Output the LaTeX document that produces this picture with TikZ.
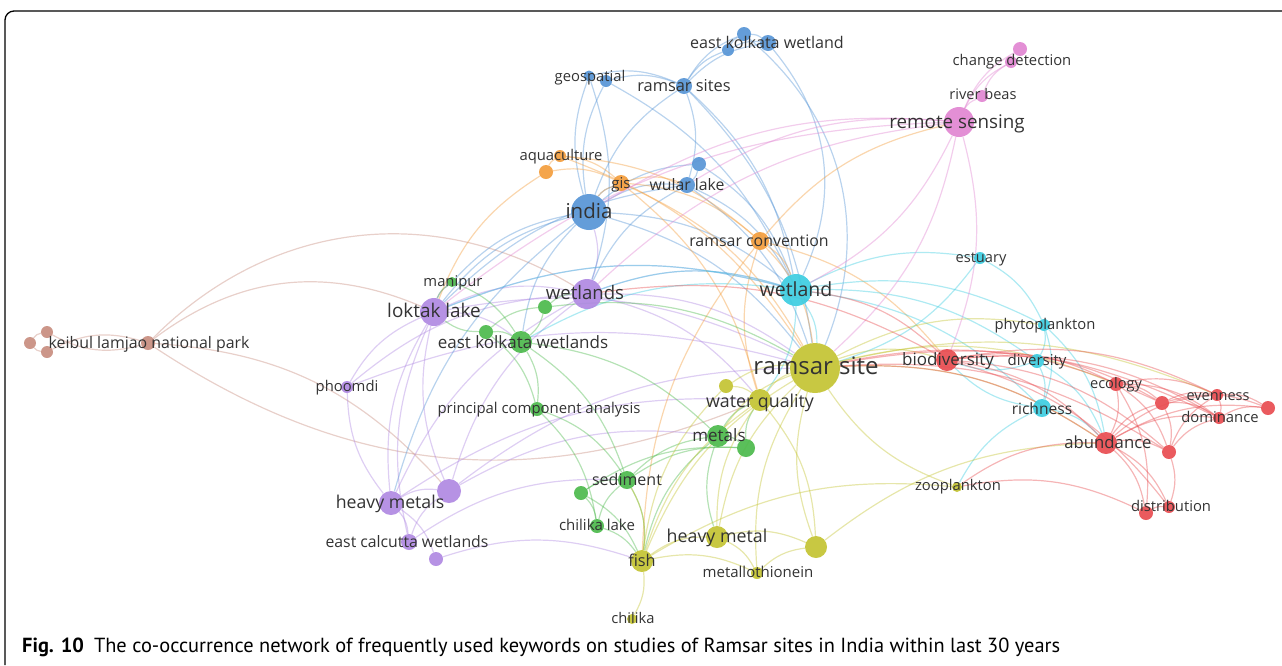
\documentclass[tikz,border=0pt]{standalone}
\usepackage{fontspec}
\setmainfont{Open Sans}
\newfontfamily\capfont{PT Sans}
\pgfdeclarelayer{bg}
\pgfsetlayers{bg,main}
\definecolor{cblue}{RGB}{88,150,214}
\definecolor{corange}{RGB}{243,158,62}
\definecolor{ccyan}{RGB}{62,205,225}
\definecolor{cpink}{RGB}{225,135,210}
\definecolor{cpurple}{RGB}{176,138,226}
\definecolor{cgreen}{RGB}{78,186,78}
\definecolor{cyellow}{RGB}{196,196,52}
\definecolor{cred}{RGB}{232,78,82}
\definecolor{cbrown}{RGB}{200,142,128}
\tikzset{
  kw/.style={circle, draw=none, fill=#1, opacity=0.93, inner sep=0pt},
  lab/.style={inner sep=0pt, anchor=base, yshift={-0.33*#1pt}, text=black!80, font=\fontsize{#1}{#1}\selectfont},
  lab/.default=14.8,
  lnk/.style={draw=#1, line width=1.2pt, opacity=0.42},
}
\begin{document}
\begin{tikzpicture}[x=1pt,y=-1pt]
\useasboundingbox (0,0) rectangle (1282,665);
\draw[line width=1.3pt, rounded corners=9pt] (5,665) -- (5,11) -- (1282,11);

% blue
\node[kw=cblue, minimum size=14pt] (ekwA) at (744,34) {};
\node[kw=cblue, minimum size=12pt] (ekwB) at (728,50) {};
\node[kw=cblue, minimum size=16pt] (ekwet) at (768,43) {};
\node[kw=cblue, minimum size=11pt] (geospatial) at (589,76) {};
\node[kw=cblue, minimum size=12pt] (geoB) at (606,81) {};
\node[kw=cblue, minimum size=16pt] (rsites) at (684,86) {};
\node[kw=cblue, minimum size=14pt] (wularB) at (699,164) {};
\node[kw=cblue, minimum size=16pt] (wular) at (687,185) {};
\node[kw=cblue, minimum size=36pt] (india) at (589,212) {};
% orange
\node[kw=corange, minimum size=12pt] (aquaculture) at (560,156) {};
\node[kw=corange, minimum size=14pt] (aquaB) at (546,172) {};
\node[kw=corange, minimum size=16pt] (gis) at (621,183) {};
\node[kw=corange, minimum size=18pt] (rconv) at (760,241) {};
% pink
\node[kw=cpink, minimum size=14pt] (changeB) at (1020,49) {};
\node[kw=cpink, minimum size=12pt] (change) at (1011,62) {};
\node[kw=cpink, minimum size=12pt] (beas) at (982,96) {};
\node[kw=cpink, minimum size=30pt] (remote) at (959,122) {};
% cyan
\node[kw=ccyan, minimum size=32pt] (wetland) at (796,290) {};
\node[kw=ccyan, minimum size=12pt] (estuary) at (980,258) {};
\node[kw=ccyan, minimum size=12pt] (phyto) at (1044,325) {};
\node[kw=ccyan, minimum size=14pt] (diversity) at (1037,361) {};
\node[kw=ccyan, minimum size=18pt] (richness) at (1042,408) {};
% purple
\node[kw=cpurple, minimum size=30pt] (wetlands) at (587,294) {};
\node[kw=cpurple, minimum size=28pt] (loktak) at (434,312) {};
\node[kw=cpurple, minimum size=12pt] (phoomdi) at (347,387) {};
\node[kw=cpurple, minimum size=24pt] (hmetals) at (391,503) {};
\node[kw=cpurple, minimum size=24pt] (hmB) at (449,491) {};
\node[kw=cpurple, minimum size=16pt] (calcutta) at (409,542) {};
\node[kw=cpurple, minimum size=14pt] (calB) at (436,559) {};
% green
\node[kw=cgreen, minimum size=10pt] (manipur) at (452,282) {};
\node[kw=cgreen, minimum size=14pt] (grA) at (545,307) {};
\node[kw=cgreen, minimum size=14pt] (grB) at (486,332) {};
\node[kw=cgreen, minimum size=22pt] (ekwets) at (521,342) {};
\node[kw=cgreen, minimum size=14pt] (pca) at (537,409) {};
\node[kw=cgreen, minimum size=22pt] (metals) at (718,436) {};
\node[kw=cgreen, minimum size=18pt] (metB) at (746,448) {};
\node[kw=cgreen, minimum size=18pt] (sediment) at (627,480) {};
\node[kw=cgreen, minimum size=14pt] (sedB) at (581,493) {};
\node[kw=cgreen, minimum size=14pt] (chlake) at (597,526) {};
% yellow
\node[kw=cyellow, minimum size=50pt] (rsite) at (815,368) {};
\node[kw=cyellow, minimum size=14pt] (wqB) at (726,386) {};
\node[kw=cyellow, minimum size=22pt] (wquality) at (760,400) {};
\node[kw=cyellow, minimum size=22pt] (hmetal) at (717,537) {};
\node[kw=cyellow, minimum size=22pt] (hmC) at (816,547) {};
\node[kw=cyellow, minimum size=22pt] (fish) at (642,561) {};
\node[kw=cyellow, minimum size=12pt] (metallo) at (757,573) {};
\node[kw=cyellow, minimum size=10pt] (chilika) at (632,619) {};
\node[kw=cyellow, minimum size=10pt] (zoo) at (957,487) {};
% red
\node[kw=cred, minimum size=22pt] (biodiv) at (947,360) {};
\node[kw=cred, minimum size=14pt] (ecology) at (1116,384) {};
\node[kw=cred, minimum size=14pt] (rdA) at (1162,403) {};
\node[kw=cred, minimum size=12pt] (evenness) at (1217,395) {};
\node[kw=cred, minimum size=14pt] (rdB) at (1268,408) {};
\node[kw=cred, minimum size=12pt] (dominance) at (1219,418) {};
\node[kw=cred, minimum size=22pt] (abundance) at (1106,443) {};
\node[kw=cred, minimum size=14pt] (rdC) at (1169,452) {};
\node[kw=cred, minimum size=14pt] (distB) at (1146,513) {};
\node[kw=cred, minimum size=12pt] (distribution) at (1169,507) {};
% brown
\node[kw=cbrown, minimum size=12pt] (kbA) at (47,332) {};
\node[kw=cbrown, minimum size=12pt] (kbB) at (30,343) {};
\node[kw=cbrown, minimum size=12pt] (kbC) at (47,352) {};
\node[kw=cbrown, minimum size=14pt] (keibul) at (148,343) {};

% links
\begin{pgfonlayer}{bg}
\foreach \a/\b in {keibul/kbA, kbC/keibul, kbB/kbA, kbC/kbB, keibul/hmB}
  \draw[lnk=cbrown] (\a) to[bend left=22] (\b);
\draw[lnk=cbrown] (keibul) to[bend left=38] (wetlands);
\draw[lnk=cbrown] (keibul) to[bend left=30] (loktak);
\draw[lnk=cbrown] (keibul) to[bend right=28] (wquality);
\foreach \a/\b in {loktak/manipur, phoomdi/loktak, hmetals/loktak, hmB/loktak, loktak/wetlands, loktak/ekwets, calcutta/loktak, loktak/rsite, hmB/wetlands, hmetals/wetlands, phoomdi/wetlands, wetlands/rsite, wetlands/wetland, india/wetlands, wetlands/wquality, hmetals/hmB, hmetals/calcutta, hmetals/calB, hmetals/phoomdi, calcutta/hmB, hmB/metals, calB/fish, calcutta/sediment, phoomdi/rsite, hmB/rsite, hmetals/wquality, loktak/wetland}
  \draw[lnk=cpurple] (\a) to[bend left=18] (\b);
\foreach \a/\b in {india/geospatial, india/geoB, india/rsites, india/wular, india/wularB, india/wetland, india/rsite, loktak/india, manipur/india, india/gis, hmetals/india, ekwets/india, geospatial/rsites, geoB/rsites, rsites/ekwB, rsites/ekwet, rsites/ekwA, rsites/wular, rsites/wetland, rsites/rsite, ekwA/ekwet, ekwB/ekwet, ekwB/ekwA, geospatial/wetlands, geoB/wetland, wularB/wular, wular/rsite, wular/wetland, wularB/wetland, wetlands/wular, loktak/wular}
  \draw[lnk=cblue] (\a) to[bend left=18] (\b);
\draw[lnk=cblue] (ekwet) to[bend left=32] (wetland);
\draw[lnk=cblue] (ekwA) to[bend left=36] (rsite);
\foreach \a/\b in {aquaculture/gis, aquaB/aquaculture, loktak/aquaB, aquaB/gis, gis/rconv, gis/rsite, gis/wular, india/gis, aquaculture/rconv, rconv/wetland, rconv/rsite, rconv/remote, wquality/rconv, fish/rconv, gis/wquality, aquaculture/rsite, rconv/biodiv}
  \draw[lnk=corange] (\a) to[bend left=18] (\b);
\foreach \a/\b in {wetland/estuary, wetland/phyto, wetland/diversity, wetland/richness, wetland/rsite, loktak/wetland, ekwets/wetland, estuary/phyto, estuary/rsite, phyto/diversity, diversity/richness, phyto/richness, zoo/richness, richness/biodiv, diversity/biodiv, wetlands/wetland, wetland/wquality, phyto/abundance, diversity/abundance, richness/abundance}
  \draw[lnk=ccyan] (\a) to[bend left=18] (\b);
\foreach \a/\b in {remote/beas, remote/change, remote/changeB, beas/change, change/changeB, india/remote, wetlands/remote, loktak/remote, remote/rsite, remote/wetland, remote/biodiv, wular/remote}
  \draw[lnk=cpink] (\a) to[bend left=18] (\b);
\foreach \a/\b in {loktak/manipur, manipur/ekwets, grB/loktak, grB/ekwets, grA/wetlands, grA/ekwets, grB/grA, ekwets/pca, pca/sediment, grB/pca, pca/chlake, sedB/sediment, chlake/sediment, sedB/chlake, sediment/metals, sediment/fish, sedB/fish, chlake/fish, metals/metB, metals/wquality, metB/wquality, fish/metals, sediment/metB, sedB/metB, ekwets/sediment, ekwets/metals, hmetal/metals, grA/rsite}
  \draw[lnk=cgreen] (\a) to[bend left=18] (\b);
\foreach \a/\b in {wquality/rsite, wqB/rsite, fish/rsite, hmetal/rsite, hmC/rsite, metallo/rsite, zoo/rsite, rsite/biodiv, rsite/abundance, rsite/phyto, rsite/ecology, rsite/evenness, metals/rsite, fish/wquality, hmetal/wquality, wqB/wquality, fish/wqB, fish/hmetal, hmetal/metallo, fish/metallo, metallo/hmC, fish/chilika, hmetal/hmC, fish/zoo, wquality/hmC, hmC/abundance, sediment/fish}
  \draw[lnk=cyellow] (\a) to[bend left=18] (\b);
\foreach \a/\b in {biodiv/ecology, biodiv/abundance, biodiv/rdA, biodiv/evenness, biodiv/dominance, biodiv/rdC, biodiv/distribution, ecology/abundance, ecology/rdA, ecology/evenness, ecology/rdC, ecology/dominance, ecology/distB, abundance/rdA, abundance/evenness, abundance/dominance, abundance/rdC, abundance/distribution, abundance/distB, abundance/rdB, rdA/evenness, rdA/dominance, rdA/rdC, rdA/rdB, evenness/dominance, evenness/rdB, dominance/rdB, rdC/dominance, rdC/distribution, rdC/evenness, distB/distribution, zoo/abundance, zoo/distB, rsite/rdC, wetlands/biodiv, wetland/biodiv, rsite/dominance, rsite/rdA, rsite/abundance}
  \draw[lnk=cred] (\a) to[bend left=18] (\b);
\end{pgfonlayer}

% labels
\node[lab=16.1] (ekwet-t) at (767,43) {east kolkata wetland};
\node[lab] (geospatial-t) at (590,77) {geospatial};
\node[lab=16.4] (rsites-t) at (684,86) {ramsar sites};
\node[lab] (aquaculture-t) at (561,156) {aquaculture};
\node[lab=15] (gis-t) at (621,184) {gis};
\node[lab=15.8] (wular-t) at (687,185) {wular lake};
\node[lab=20.5] (india-t) at (589,212) {india};
\node[lab=15.9] (rconv-t) at (759,241) {ramsar convention};
\node[lab] (change-t) at (1012,61) {change detection};
\node[lab=14.6] (beas-t) at (983,95) {river beas};
\node[lab=18.8] (remote-t) at (957,122) {remote sensing};
\node[lab=14.6] (estuary-t) at (981,258) {estuary};
\node[lab=19.5] (wetland-t) at (796,290) {wetland};
\node[lab] (manipur-t) at (453,282) {manipur};
\node[lab=18.6] (wetlands-t) at (585,293) {wetlands};
\node[lab=18.9] (loktak-t) at (434,311) {loktak lake};
\node[lab] (phyto-t) at (1045,325) {phytoplankton};
\node[lab=15.9] (keibul-t) at (149,343) {keibul lamjao national park};
\node[lab=17] (ekwets-t) at (523,343) {east kolkata wetlands};
\node[lab=24] (rsite-t) at (816,367) {ramsar site};
\node[lab=17] (biodiv-t) at (948,360) {biodiversity};
\node[lab=15] (diversity-t) at (1037,361) {diversity};
\node[lab=14.6] (ecology-t) at (1116,384) {ecology};
\node[lab] (phoomdi-t) at (347,387) {phoomdi};
\node[lab=14.5] (evenness-t) at (1218,396) {evenness};
\node[lab=17.8] (wquality-t) at (760,402) {water quality};
\node[lab=14.9] (pca-t) at (539,409) {principal component analysis};
\node[lab=15.6] (richness-t) at (1042,409) {richness};
\node[lab] (dominance-t) at (1220,418) {dominance};
\node[lab=17] (metals-t) at (719,436) {metals};
\node[lab=16.7] (abundance-t) at (1108,443) {abundance};
\node[lab=16] (sediment-t) at (627,480) {sediment};
\node[lab] (zoo-t) at (958,486) {zooplankton};
\node[lab=17.7] (hmetals-t) at (390,503) {heavy metals};
\node[lab] (distribution-t) at (1171,507) {distribution};
\node[lab=15] (chlake-t) at (597,526) {chilika lake};
\node[lab=17.8] (hmetal-t) at (717,537) {heavy metal};
\node[lab=15.8] (calcutta-t) at (407,542) {east calcutta wetlands};
\node[lab=16.3] (fish-t) at (642,561) {fish};
\node[lab=15] (metallo-t) at (758,573) {metallothionein};
\node[lab=14.7] (chilika-t) at (633,619) {chilika};

% caption
\node[anchor=base west, inner sep=0pt, font=\capfont\fontsize{20.4}{22}\selectfont] (caption) at (22,652)
  {\textbf{Fig. 10}\hspace{10pt}The co-occurrence network of frequently used keywords on studies of Ramsar sites in India within last 30 years};
\end{tikzpicture}
\end{document}
